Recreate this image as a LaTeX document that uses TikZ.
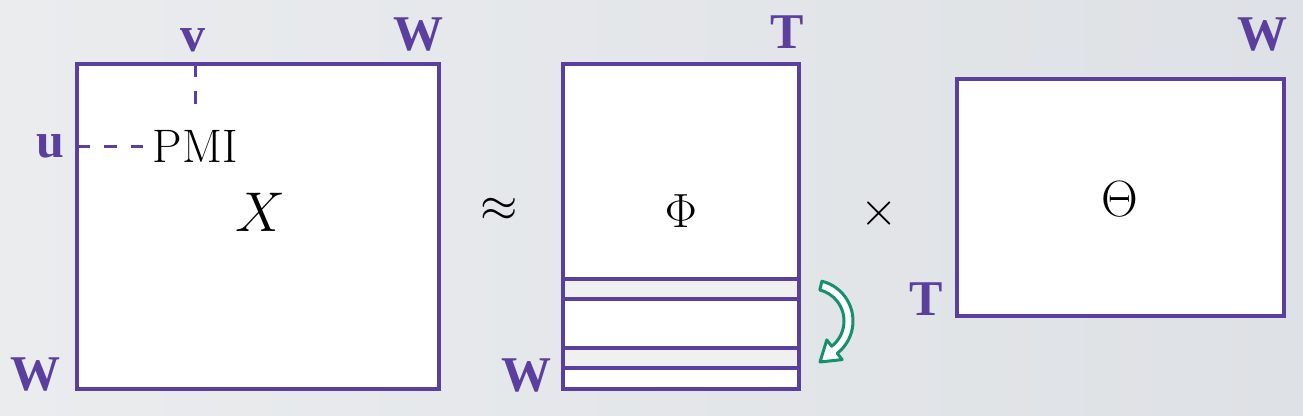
\RequirePackage{fix-cm}
\documentclass[tikz,border=0pt]{standalone}
\usepackage{fontspec}
\newfontfamily\labfont{Liberation Serif}
\usetikzlibrary{calc}
\definecolor{purp}{RGB}{91,63,158}
\definecolor{arrgreen}{RGB}{22,143,111}
\definecolor{stripegray}{RGB}{240,240,241}
\definecolor{bgleft}{RGB}{234,236,238}
\definecolor{bgmid}{RGB}{247,247,249}
\definecolor{bgright}{RGB}{222,225,229}
\begin{document}
\begin{tikzpicture}[x=1pt,y=-1pt,
  matbox/.style={draw=purp, line width=4pt, fill=white, inner sep=0pt, outer sep=0pt},
  stripebox/.style={draw=purp, line width=3.5pt, fill=stripegray, inner sep=0pt, outer sep=0pt,
     minimum width=236pt, minimum height=20pt},
  dimlabel/.style={text=purp, inner sep=0pt, font=\labfont\bfseries\fontsize{50}{50}\selectfont},
  mathlabel/.style={inner sep=0pt, font=\fontsize{48}{48}\selectfont},
  dashline/.style={draw=purp, line width=3pt, dash pattern=on 13pt off 14pt},
  turnarrow/.style={draw=arrgreen, line width=3pt, fill=white, line join=round}
]
\useasboundingbox (0,0) rectangle (1303,415);
\shade[left color=bgleft, middle color=bgmid, right color=bgright] (0,0) rectangle (1303,415);

% matrices
\node[matbox, minimum width=362pt, minimum height=325pt] (xbox) at (258,226.5) {};
\node[matbox, minimum width=236pt, minimum height=325pt] (phibox) at (681,226.5) {};
\node[matbox, minimum width=327pt, minimum height=237pt] (thbox) at (1120.5,197.5) {};

% stripes in Phi
\node[stripebox] (s1) at (681,289) {};
\node[stripebox] (s2) at (681,358) {};

% symbols
\node[mathlabel, font=\fontsize{56}{56}\selectfont] (xsym) at (260,212) {$X$};
\node[mathlabel] (approx) at (499,210) {$\approx$};
\node[mathlabel] (phisym) at (681,211) {$\Phi$};
\node[mathlabel] (times) at (879,213) {$\times$};
\node[mathlabel, font=\fontsize{51}{51}\selectfont] (thsym) at (1120,199) {$\Theta$};
\node[inner sep=0pt, font=\fontsize{47}{47}\selectfont] (pmi) at (195,146) {PMI};

% dimension labels
\node[dimlabel] (lv) at (193,40) {v};
\node[dimlabel] (lu) at (50,146) {u};
\node[dimlabel] (lw1) at (418,35) {W};
\node[dimlabel] (lw2) at (35,375) {W};
\node[dimlabel] (lt1) at (787,32) {T};
\node[dimlabel] (lw3) at (526,376) {W};
\node[dimlabel] (lw4) at (1262,35) {W};
\node[dimlabel] (lt2) at (926,299) {T};

% dashed guides
\draw[dashline] (pmi.north |- xbox.north) -- ([yshift=23pt]pmi.north);
\draw[dashline] (xbox.west |- pmi.west) -- ([xshift=-9pt]pmi.west);

% green turning arrow
\coordinate (ac) at (812,321);
\coordinate (tip) at (820,362);
\draw[turnarrow] ($(ac)+(-76:41)$) arc[start angle=-76, end angle=52, radius=41]
   -- ($(ac)+(52:49)$) -- (tip) -- ($(ac)+(52:24)$) -- ($(ac)+(52:32)$)
   arc[start angle=52, end angle=-76, radius=32] -- cycle;
\end{tikzpicture}
\end{document}
